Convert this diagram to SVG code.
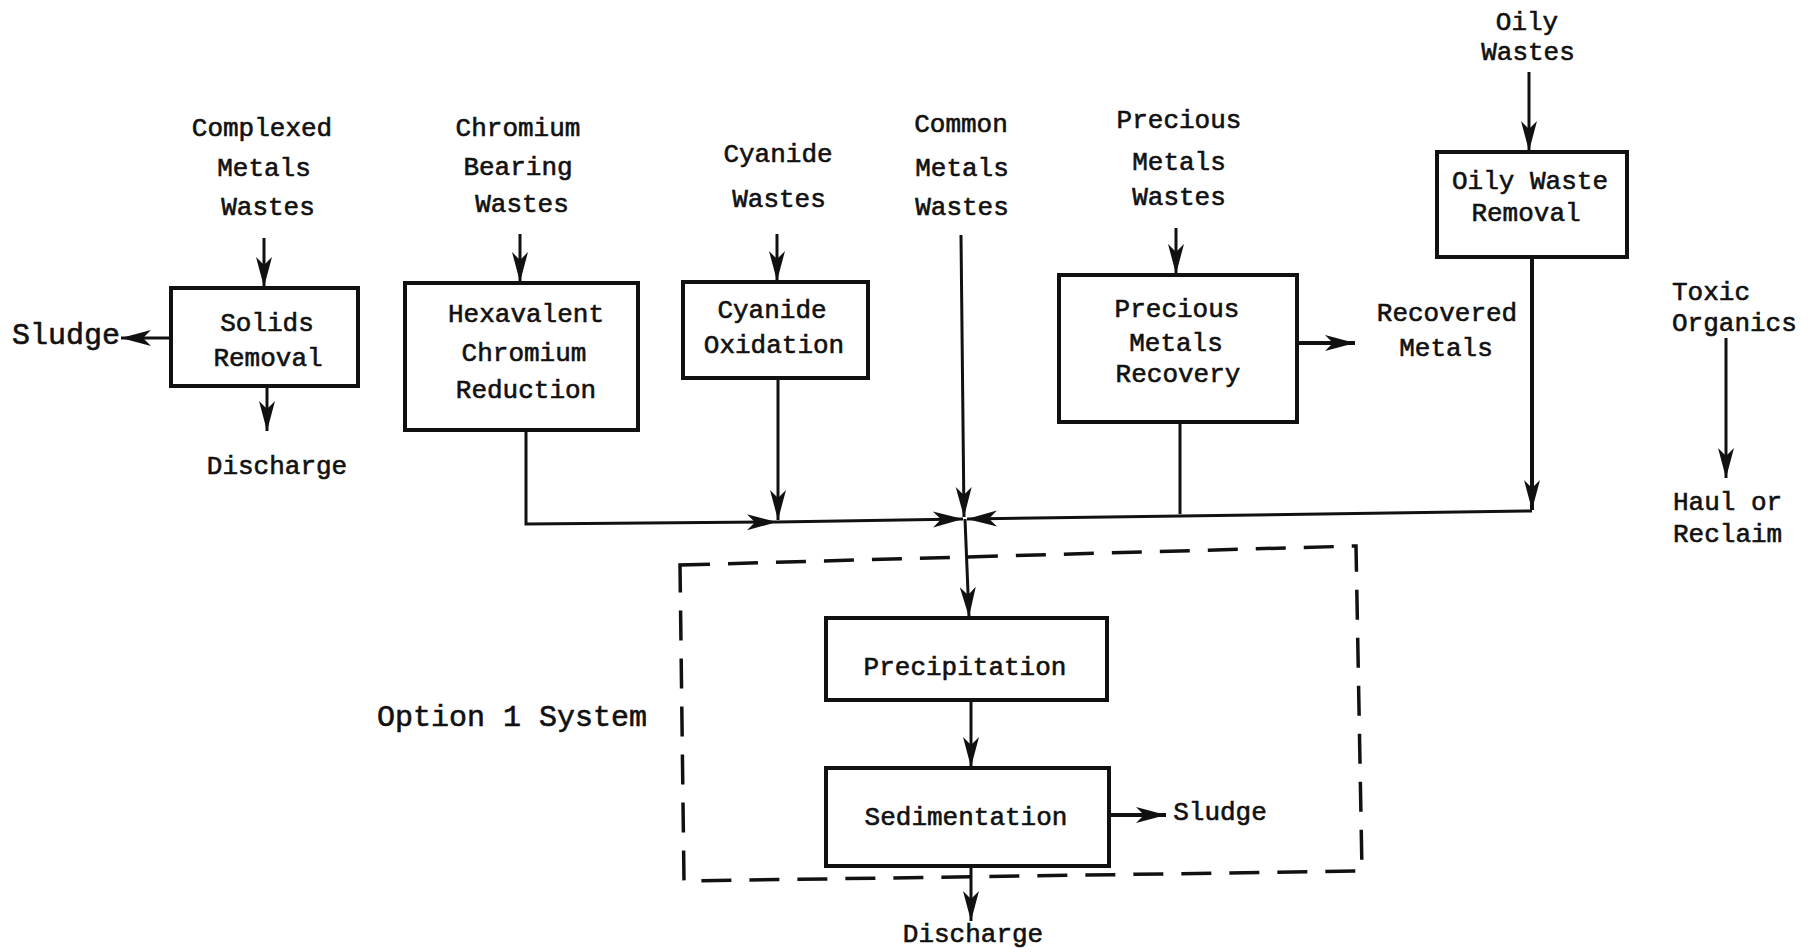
<svg xmlns="http://www.w3.org/2000/svg" width="1817" height="952" viewBox="0 0 1817 952">
<style>
  text { font-family: "Liberation Mono", "DejaVu Sans Mono", monospace; font-size: 26px; fill: #111; stroke: #111; stroke-width: 0.6; text-anchor: middle; }
  .box { fill: none; stroke: #111; stroke-width: 4; }
  .ln { fill: none; stroke: #111; stroke-width: 3; }
  .arr { marker-end: url(#ah); }
  .dash { fill: none; stroke: #111; stroke-width: 3.5; stroke-dasharray: 30 18; }
  .big { font-size: 30px; }
  .left { text-anchor: start; }
</style>
<defs>
  <marker id="ah" markerUnits="userSpaceOnUse" viewBox="-32 -10 34 20" refX="0" refY="0" markerWidth="34" markerHeight="20" orient="auto">
    <path d="M0,0 L-30,-8 L-22,0 L-30,8 Z" fill="#111"/>
  </marker>
</defs>
<rect width="1817" height="952" fill="#fff"/>

<g id="connectors">
  <path class="ln arr" d="M264,238 L264,287"/>
  <path class="ln arr" d="M171,338 L121,338"/>
  <path class="ln arr" d="M267,386 L267,431"/>
  <path class="ln arr" d="M520,234 L520,282"/>
  <path class="ln arr" d="M777,234 L777,281"/>
  <path class="ln arr" d="M1176,228 L1176,274"/>
  <path class="ln arr" d="M1297,343 L1355,343" style="stroke-width:4"/>
  <path class="ln arr" d="M1529,72 L1529,151"/>
  <path class="ln arr" d="M1726,338 L1726,478"/>
  <path class="ln arr" d="M526,430 L526,524 L777,522"/>
  <path class="ln arr" d="M777,522 L963,519"/>
  <path class="ln arr" d="M778,378 L778,520"/>
  <path class="ln arr" d="M961,235 L964,517"/>
  <path class="ln arr" d="M1532,256 L1532,510" style="stroke-width:4"/>
  <path class="ln arr" d="M1532,511 L967,519"/>
  <path class="ln" d="M1180,422 L1180,514"/>
  <path class="ln arr" d="M965,519 L969,617"/>
  <path class="ln arr" d="M971,700 L971,767"/>
  <path class="ln arr" d="M1109,815 L1166,815" style="stroke-width:4"/>
  <path class="ln arr" d="M971,866 L971,921"/>
</g>

<g id="option1-system">
  <path class="dash" d="M680,565 L1356,546 L1362,871 L684,881 Z"/>
  <text class="big" x="512" y="726">Option 1 System</text>
</g>

<g id="complexed-wastes">
  <text x="262" y="136">Complexed</text>
  <text x="264" y="176">Metals</text>
  <text x="268" y="215">Wastes</text>
</g>
<g id="solids-removal">
  <rect class="box" x="171" y="288" width="187" height="98"/>
  <text x="267" y="331">Solids</text>
  <text x="268" y="366">Removal</text>
</g>
<g id="sludge-left"><text class="big" x="66" y="344">Sludge</text></g>
<g id="discharge-left"><text x="277" y="474">Discharge</text></g>

<g id="chromium-wastes">
  <text x="518" y="136">Chromium</text>
  <text x="518" y="175">Bearing</text>
  <text x="522" y="212">Wastes</text>
</g>
<g id="hex-chromium-reduction">
  <rect class="box" x="405" y="283" width="233" height="147"/>
  <text x="526" y="322">Hexavalent</text>
  <text x="524" y="361">Chromium</text>
  <text x="526" y="398">Reduction</text>
</g>

<g id="cyanide-wastes">
  <text x="778" y="162">Cyanide</text>
  <text x="779" y="207">Wastes</text>
</g>
<g id="cyanide-oxidation">
  <rect class="box" x="683" y="282" width="185" height="96"/>
  <text x="772" y="318">Cyanide</text>
  <text x="774" y="353">Oxidation</text>
</g>

<g id="common-wastes">
  <text x="961" y="132">Common</text>
  <text x="962" y="176">Metals</text>
  <text x="962" y="215">Wastes</text>
</g>

<g id="precious-wastes">
  <text x="1179" y="128">Precious</text>
  <text x="1179" y="170">Metals</text>
  <text x="1179" y="205">Wastes</text>
</g>
<g id="precious-recovery">
  <rect class="box" x="1059" y="275" width="238" height="147"/>
  <text x="1177" y="317">Precious</text>
  <text x="1176" y="351">Metals</text>
  <text x="1178" y="382">Recovery</text>
</g>
<g id="recovered-metals">
  <text x="1447" y="321">Recovered</text>
  <text x="1446" y="356">Metals</text>
</g>

<g id="oily-wastes">
  <text x="1527" y="30">Oily</text>
  <text x="1528" y="60">Wastes</text>
</g>
<g id="oily-removal">
  <rect class="box" x="1437" y="152" width="190" height="105"/>
  <text x="1530" y="189">Oily Waste</text>
  <text x="1526" y="221">Removal</text>
</g>

<g id="toxic-organics">
  <text class="left" x="1672" y="300">Toxic</text>
  <text class="left" x="1672" y="331">Organics</text>
</g>
<g id="haul-reclaim">
  <text class="left" x="1673" y="510">Haul or</text>
  <text class="left" x="1673" y="542">Reclaim</text>
</g>

<g id="precipitation">
  <rect class="box" x="826" y="618" width="281" height="82"/>
  <text x="965" y="675">Precipitation</text>
</g>
<g id="sedimentation">
  <rect class="box" x="826" y="768" width="283" height="98"/>
  <text x="966" y="825">Sedimentation</text>
</g>
<g id="sludge-right"><text x="1220" y="820">Sludge</text></g>
<g id="discharge-bottom"><text x="973" y="942">Discharge</text></g>
</svg>
